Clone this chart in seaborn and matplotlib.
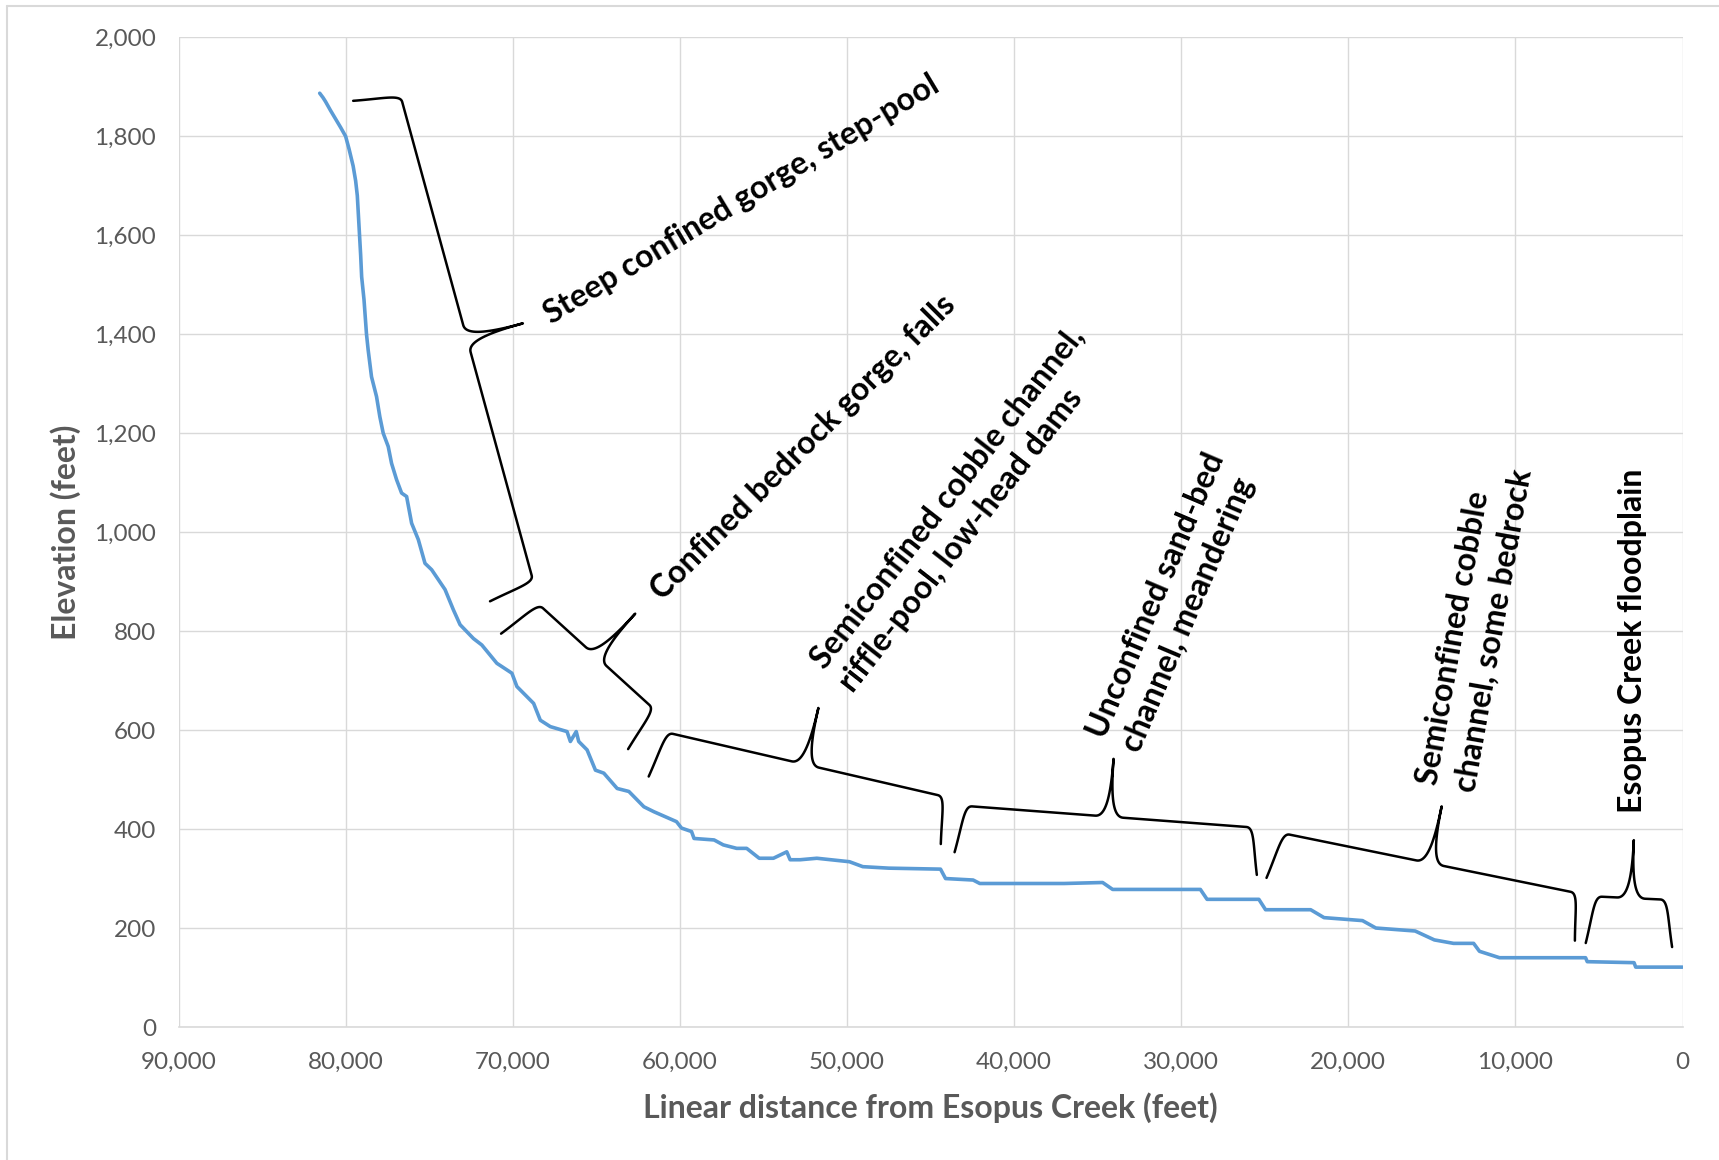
import numpy as np
import pandas as pd
import matplotlib
matplotlib.use("Agg")
import matplotlib.pyplot as plt
from matplotlib.ticker import FuncFormatter, FixedLocator
from matplotlib.lines import Line2D
import seaborn as sns

# Longitudinal profile: distance upstream of Esopus Creek (ft) and channel elevation (ft)
distance_ft = [
    81550, 81350, 81200, 80900, 80600, 80300, 80000, 79800, 79550, 79400,
    79300, 79200, 79100, 79040, 78900, 78750, 78650, 78450, 78150, 77950,
    77750, 77450, 77250, 76950, 76650, 76350, 76050, 75650, 75250, 74850,
    74050, 73550, 73150, 72350, 71850, 70950, 70050, 69750, 68750, 68350,
    67750, 66750, 66550, 66200, 66050, 65550, 65050, 64550, 63750, 63050,
    62150, 61550, 60200, 59900, 59300, 59150, 57950, 57400, 56600, 56000,
    55250, 54400, 53600, 53400, 52800, 51800, 49850, 49050, 47500, 44400,
    44100, 42450, 42050, 37000, 34700, 34100, 28850, 28450, 25350, 24950,
    22250, 21450, 19150, 18350, 16000, 14850, 13700, 12500, 12150, 10950,
    5800, 5700, 2900, 2800, 0,
]
elevation_ft = [
    1887, 1878, 1870, 1852, 1835, 1818, 1800, 1775, 1740, 1710,
    1680, 1620, 1560, 1516, 1470, 1400, 1368, 1314, 1274, 1233,
    1200, 1173, 1139, 1106, 1079, 1072, 1018, 985, 937, 924,
    884, 843, 813, 785, 772, 735, 715, 688, 654, 620,
    607, 597, 577, 597, 577, 560, 519, 513, 482, 476,
    445, 435, 415, 402, 395, 381, 378, 368, 361, 361,
    341, 341, 354, 338, 338, 341, 334, 324, 321, 319,
    300, 297, 290, 290, 292, 278, 278, 258, 258, 237,
    237, 221, 215, 200, 194, 176, 169, 169, 153, 140,
    140, 132, 130, 121, 121,
]

x_ticks = [90000, 80000, 70000, 60000, 50000, 40000, 30000, 20000, 10000, 0]
y_ticks = [0, 200, 400, 600, 800, 1000, 1200, 1400, 1600, 1800, 2000]

# Channel-type reaches: description and the distance/elevation of each bracket end
reach_labels = [
    "Steep confined gorge, step-pool",
    "Confined bedrock gorge, falls",
    "Semiconfined cobble channel,\nriffle-pool, low-head dams",
    "Unconfined sand-bed\nchannel, meandering",
    "Semiconfined cobble\nchannel, some bedrock",
    "Esopus Creek floodplain",
]
reach_start = [(76740, 1885), (68540, 857), (60880, 596), (42990, 447), (23980, 392), (5300, 264)]
reach_end = [(68740, 897), (61470, 640), (44100, 465), (25620, 403), (6230, 270), (850, 257)]

# Label placement (left end of each text block) and text angle
label_anchor = [(67955, 1435), (61470, 873), (50950, 709), (34080, 573), (14120, 483), (2990, 433)]
label_angle = [31, 45, 52, 67, 80, 90]

sns.set_theme(style="whitegrid")
plt.rcParams["font.family"] = ["Lato", "DejaVu Sans"]

W, H = 1719, 1160
fig = plt.figure(figsize=(W / 100, H / 100), dpi=100)
ax = fig.add_axes([178.5 / W, 1 - 1027 / H, (1682.5 - 178.5) / W, (1027 - 37.3) / H])

df = pd.DataFrame({"distance": distance_ft, "elevation": elevation_ft})
sns.lineplot(data=df, x="distance", y="elevation", sort=False, estimator=None,
             color="#5B9BD5", linewidth=2.6, ax=ax)

ax.set_xlim(90000, 0)
ax.set_ylim(0, 2000)
ax.xaxis.set_major_locator(FixedLocator(x_ticks))
ax.yaxis.set_major_locator(FixedLocator(y_ticks))
fmt = FuncFormatter(lambda v, _: f"{v:,.0f}")
ax.xaxis.set_major_formatter(fmt)
ax.yaxis.set_major_formatter(fmt)

ax.set_facecolor("white")
ax.grid(True, color="#d9d9d9", linewidth=1.0)
for side in ["left", "right", "top"]:
    ax.spines[side].set_visible(False)
ax.spines["bottom"].set_color("#d9d9d9")
ax.spines["bottom"].set_linewidth(1.2)
ax.tick_params(axis="both", length=0, labelsize=17.5, labelcolor="#595959")
ax.tick_params(axis="x", pad=18)
ax.tick_params(axis="y", pad=16)

ax.set_xlabel("Linear distance from Esopus Creek (feet)", fontsize=23,
              fontweight="bold", color="#595959")
ax.set_ylabel("Elevation (feet)", fontsize=23, fontweight="bold", color="#595959")
ax.xaxis.label.set_va("center")
ax.yaxis.label.set_va("center")
ax.xaxis.set_label_coords(0.5, (1027 - 1108) / 989.7)
ax.yaxis.set_label_coords((66 - 178.5) / 1504, 0.5)


def bezier(p0, p1, p2, p3, n=24):
    t = np.linspace(0, 1, n)[:, None]
    return (1 - t) ** 3 * p0 + 3 * (1 - t) ** 2 * t * p1 + 3 * (1 - t) * t ** 2 * p2 + t ** 3 * p3


def brace_points(start, end, hook=47, tip=58, flare=6, radius=8, half=14):
    """Curly bracket between two data points, shaped in pixel space."""
    to_px = ax.transData
    c1 = to_px.transform(start)
    c2 = to_px.transform(end)
    vec = c2 - c1
    L = np.hypot(*vec)
    d = vec / L
    nrm = np.array([-d[1], d[0]])
    if nrm[1] < 0:
        nrm = -nrm

    def P(u, v):
        return c1 + u * d + v * nrm

    m = L / 2
    segs = [
        bezier(P(-flare, -hook), P(0, -0.35 * hook), P(0, 0), P(radius, 0)),
        bezier(P(radius, 0), P(radius, 0), P(m - half, 0), P(m - half, 0), n=2),
        bezier(P(m - half, 0), P(m - 0.3 * half, 0), P(m, 0.3 * tip), P(m, tip)),
        bezier(P(m, tip), P(m, 0.3 * tip), P(m + 0.3 * half, 0), P(m + half, 0)),
        bezier(P(m + half, 0), P(m + half, 0), P(L - radius, 0), P(L - radius, 0), n=2),
        bezier(P(L - radius, 0), P(L, 0), P(L, -0.35 * hook), P(L + flare, -hook)),
    ]
    return to_px.inverted().transform(np.vstack(segs))


for start, end in zip(reach_start, reach_end):
    pts = brace_points(start, end)
    ax.plot(pts[:, 0], pts[:, 1], color="black", linewidth=1.8, solid_capstyle="round",
            solid_joinstyle="round", clip_on=False)

for text, (tx, ty), ang in zip(reach_labels, label_anchor, label_angle):
    ax.text(tx, ty, text, rotation=ang, rotation_mode="anchor", ha="left", va="center",
            fontsize=23, fontweight="bold", color="black", linespacing=1.35)

# light outline of the chart area
fig.add_artist(Line2D([7 / W, 7 / W], [0, 1 - 6 / H], transform=fig.transFigure,
                      color="#d9d9d9", linewidth=1.5))
fig.add_artist(Line2D([7 / W, 1], [1 - 6 / H, 1 - 6 / H], transform=fig.transFigure,
                      color="#d9d9d9", linewidth=1.5))

fig.savefig("out.png", dpi=100, facecolor="white")
